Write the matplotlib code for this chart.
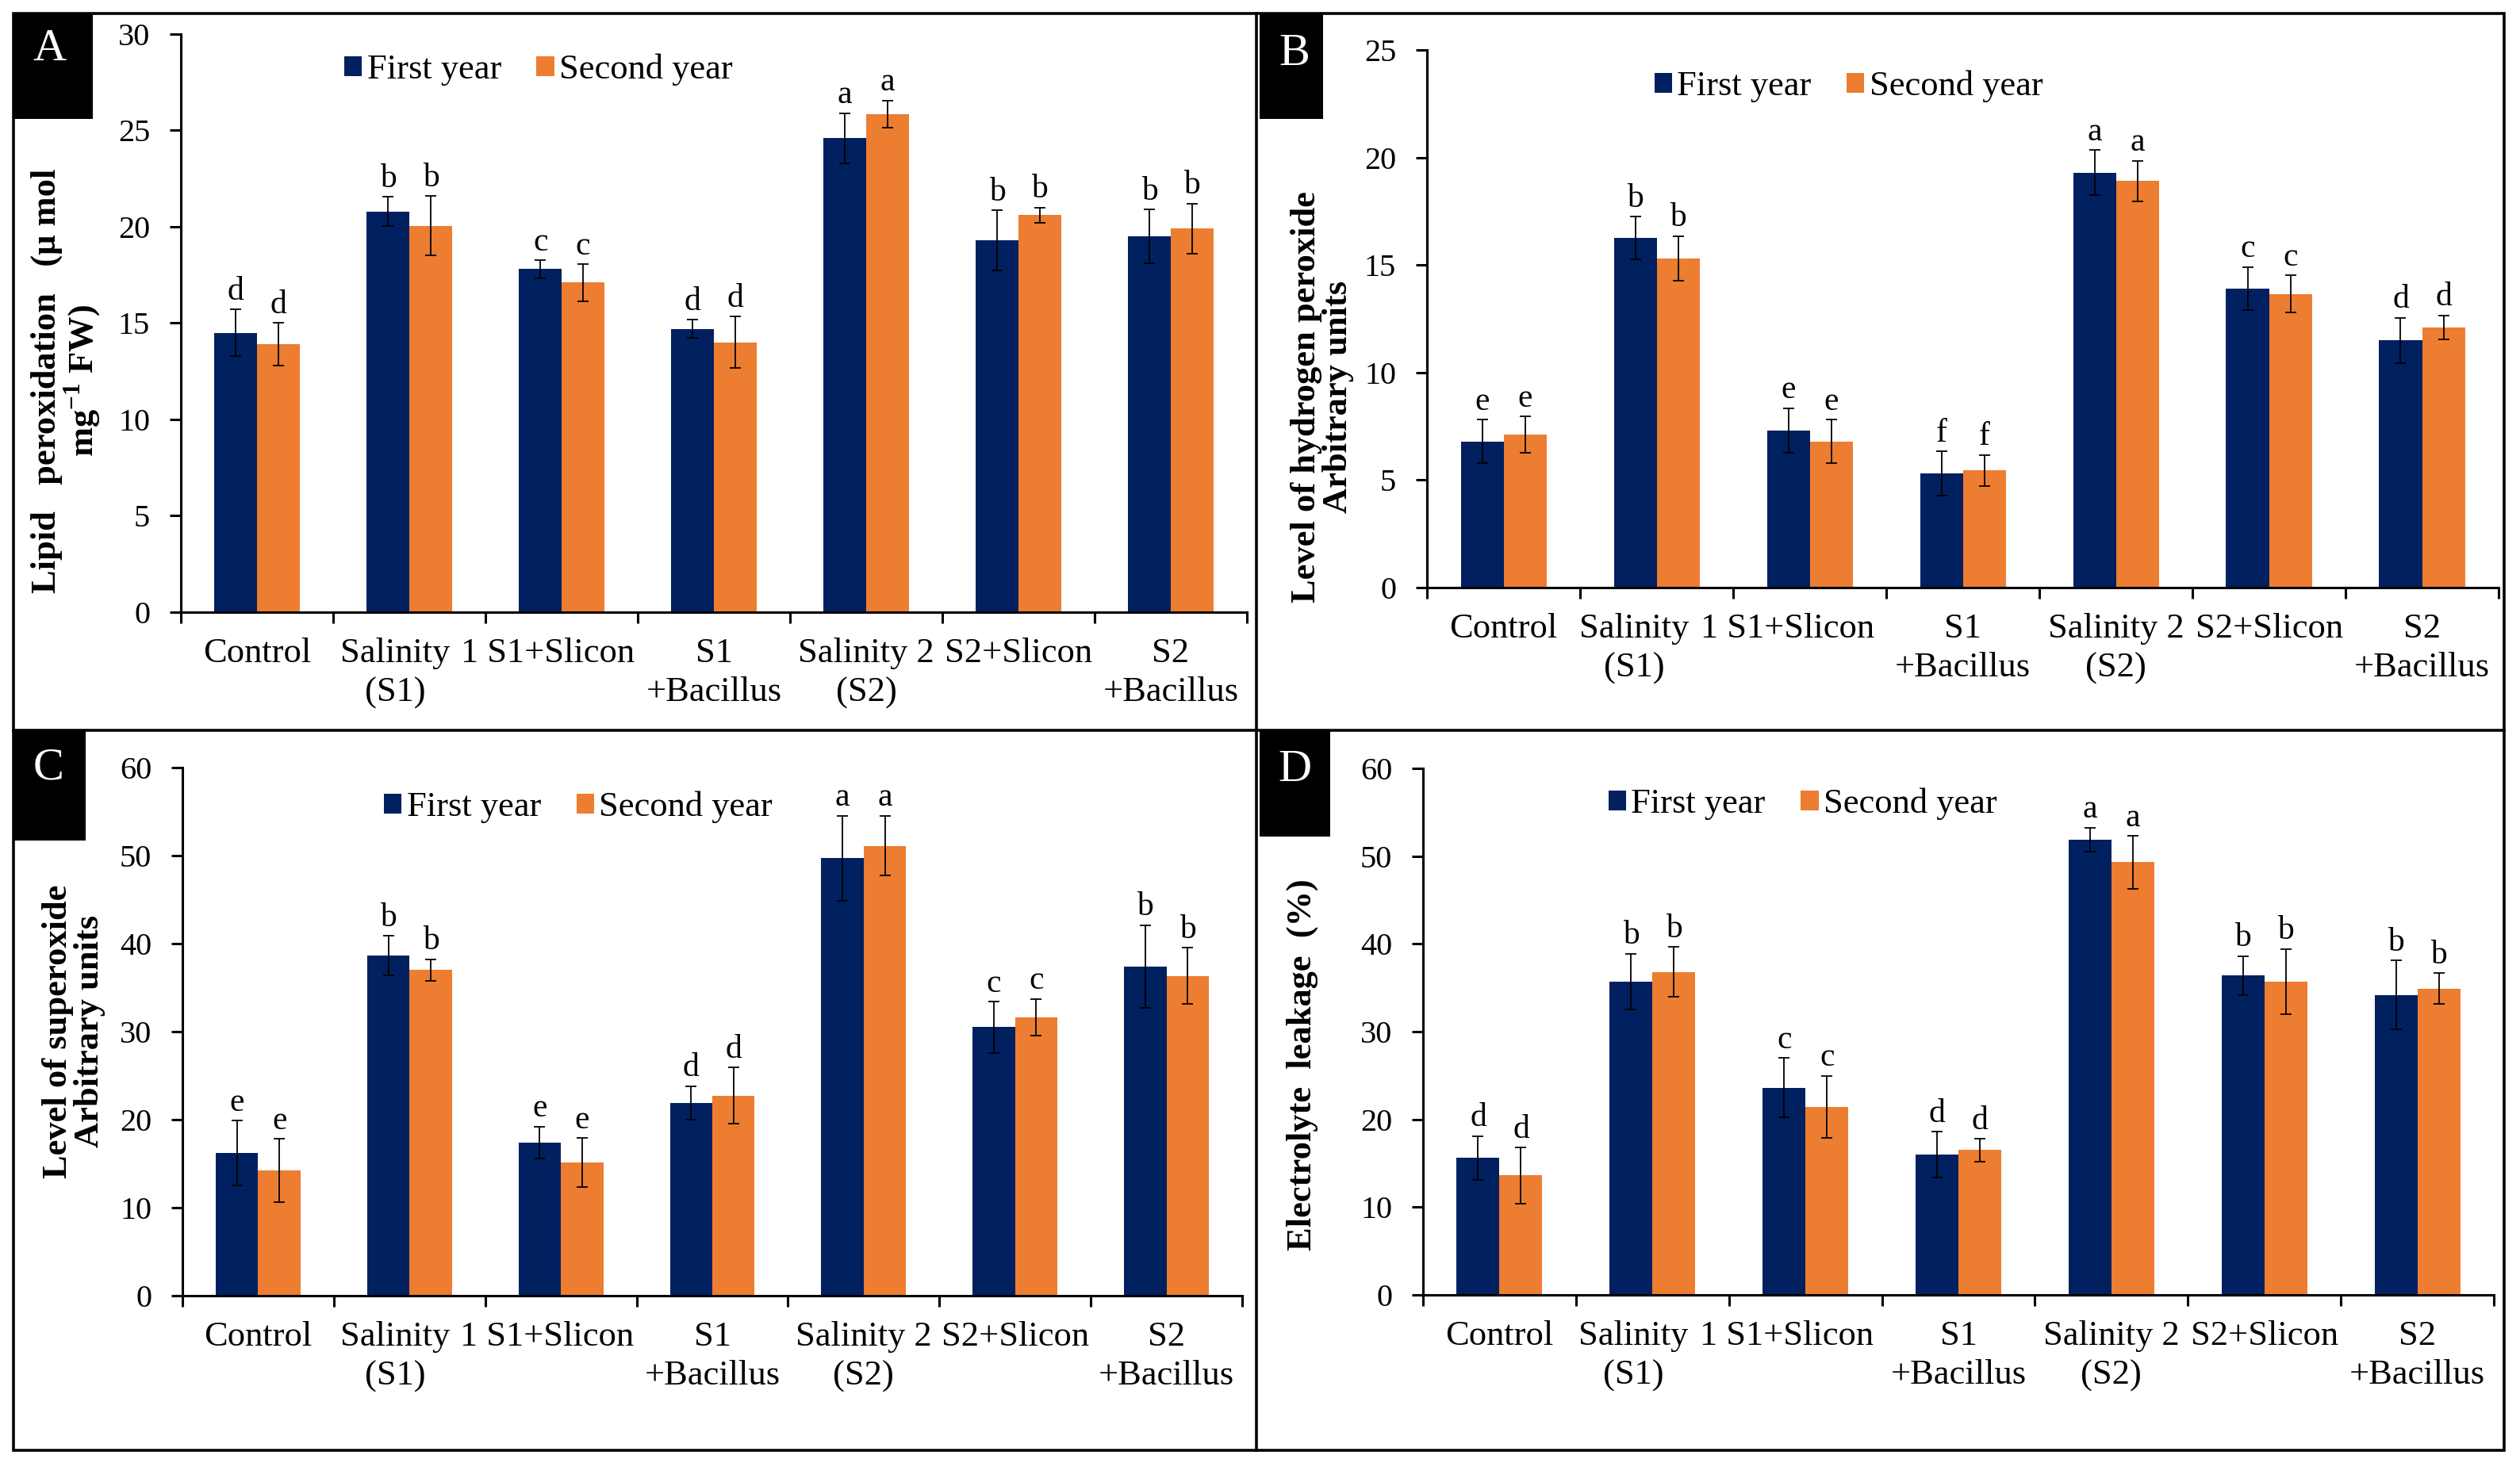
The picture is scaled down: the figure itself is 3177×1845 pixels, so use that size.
import matplotlib
matplotlib.use('Agg')
import matplotlib.pyplot as plt
import numpy as np
from matplotlib.patches import Rectangle
from matplotlib.lines import Line2D
from matplotlib.transforms import ScaledTranslation

plt.rcParams['font.family'] = ['Liberation Serif', 'DejaVu Serif']
plt.rcParams['mathtext.fontset'] = 'custom'
plt.rcParams['mathtext.rm'] = 'Liberation Serif:bold'

# ---- data ----
groups = ['Control', 'Salinity\n(S1)', '1 S1+Slicon', 'S1\n+Bacillus',
          'Salinity 2\n(S2)', 'S2+Slicon', 'S2\n+Bacillus']
series = ['First year', 'Second year']

lipid_y1 = [14.5, 20.8, 17.8, 14.7, 24.6, 19.3, 19.5]
lipid_y1_err = [1.2, 0.75, 0.47, 0.48, 1.3, 1.55, 1.4]
lipid_y2 = [13.9, 20.05, 17.1, 14.0, 25.85, 20.6, 19.9]
lipid_y2_err = [1.1, 1.55, 0.95, 1.33, 0.7, 0.4, 1.3]
lipid_letters = ['d', 'b', 'c', 'd', 'a', 'b', 'b']

h2o2_y1 = [6.8, 16.25, 7.3, 5.3, 19.3, 13.9, 11.5]
h2o2_y1_err = [1.0, 1.0, 1.04, 1.03, 1.04, 1.0, 1.05]
h2o2_y2 = [7.1, 15.3, 6.8, 5.45, 18.9, 13.65, 12.1]
h2o2_y2_err = [0.85, 1.04, 1.0, 0.72, 0.94, 0.86, 0.55]
h2o2_letters = ['e', 'b', 'e', 'f', 'a', 'c', 'd']

sup_y1 = [16.2, 38.6, 17.4, 21.9, 49.7, 30.5, 37.4]
sup_y1_err = [3.7, 2.25, 1.8, 1.9, 4.8, 2.9, 4.7]
sup_y2 = [14.2, 37.0, 15.1, 22.7, 51.1, 31.6, 36.3]
sup_y2_err = [3.6, 1.2, 2.8, 3.2, 3.4, 2.1, 3.2]
sup_letters = ['e', 'b', 'e', 'd', 'a', 'c', 'b']

el_y1 = [15.6, 35.7, 23.6, 16.0, 51.9, 36.4, 34.2]
el_y1_err = [2.5, 3.2, 3.4, 2.6, 1.35, 2.2, 3.9]
el_y2 = [13.6, 36.8, 21.4, 16.5, 49.3, 35.7, 34.9]
el_y2_err = [3.2, 2.85, 3.55, 1.3, 3.0, 3.7, 1.75]
el_letters = ['d', 'b', 'c', 'd', 'a', 'b', 'b']

NAVY = '#002060'
ORANGE = '#ED7D31'
BW = 0.28


def draw_panel(ax, y1, e1, y2, e2, letters, ymax, ystep, ylabel, lab_xy, leg_xy, shift):
    x = np.arange(len(groups))
    ax.bar(x - BW / 2, y1, BW, color=NAVY, label=series[0], zorder=2)
    ax.bar(x + BW / 2, y2, BW, color=ORANGE, label=series[1], zorder=2)
    for xs, ys, es in ((x - BW / 2, y1, e1), (x + BW / 2, y2, e2)):
        ax.errorbar(xs, ys, yerr=es, fmt='none', ecolor='black', elinewidth=1.3,
                    capsize=5, capthick=1.3, zorder=3)
        for xi, yi, ei, lt in zip(xs, ys, es, letters):
            ax.annotate(lt, (xi, yi + ei), xytext=(0, 9), textcoords='offset points',
                        ha='center', va='baseline', fontsize=30)

    ax.set_xlim(-0.5, len(groups) - 0.5)
    ax.set_ylim(0, ymax)
    ax.set_yticks(np.arange(0, ymax + ystep / 2, ystep))
    ax.set_xticks(x)
    ax.set_xticklabels(groups, fontsize=32, linespacing=1.3)
    ax.set_xticks(np.arange(-0.5, len(groups)), minor=True)
    ax.tick_params(axis='x', which='major', length=0, pad=23)
    ax.tick_params(axis='x', which='minor', length=10, width=2.2, direction='out')
    ax.tick_params(axis='y', which='major', length=10, width=2.2, direction='out',
                   labelsize=29, pad=18)
    # the 2nd and 3rd category labels sit a little left of their groups
    # (done after tick_params, which resets the label transforms)
    for lbl in ax.get_xticklabels()[1:3]:
        lbl.set_transform(lbl.get_transform() +
                          ScaledTranslation(-shift, 0, ax.figure.dpi_scale_trans))
    for s in ('top', 'right'):
        ax.spines[s].set_visible(False)
    for s in ('left', 'bottom'):
        ax.spines[s].set_linewidth(2.2)

    ax.set_ylabel(ylabel, fontsize=32, fontweight='bold', linespacing=1.0)
    ax.yaxis.set_label_coords(*lab_xy)

    ax.legend(loc='center left', bbox_to_anchor=leg_xy, ncol=2, frameon=False,
              fontsize=32, handlelength=0.5, handleheight=0.5, handletextpad=0.15,
              columnspacing=1.0, borderpad=0, borderaxespad=0)


fig = plt.figure(figsize=(31.77, 18.45), dpi=100)

axA = fig.add_axes([0.0718, 0.5816, 0.4230, 0.3951])
draw_panel(axA, lipid_y1, lipid_y1_err, lipid_y2, lipid_y2_err, lipid_letters, 30, 5,
           'Lipid   peroxidation   (μ mol\nmg$^{-1}$ FW)', (-0.073, 0.40), (0.153, 0.938), 0.18)

axB = fig.add_axes([0.5663, 0.5984, 0.4252, 0.3675])
draw_panel(axB, h2o2_y1, h2o2_y1_err, h2o2_y2, h2o2_y2_err, h2o2_letters, 25, 5,
           'Level of hydrogen peroxide\nArbitrary units', (-0.068, 0.355), (0.212, 0.932), 0.28)

axC = fig.add_axes([0.0724, 0.1144, 0.4205, 0.3610])
draw_panel(axC, sup_y1, sup_y1_err, sup_y2, sup_y2_err, sup_letters, 60, 10,
           'Level of superoxide\nArbitrary units', (-0.0726, 0.5), (0.19, 0.925), 0.18)

axD = fig.add_axes([0.5647, 0.1149, 0.4249, 0.3599])
draw_panel(axD, el_y1, el_y1_err, el_y2, el_y2_err, el_letters, 60, 10,
           'Electrolyte  leakage  (%)', (-0.098, 0.438), (0.173, 0.932), 0.24)

# ---- panel frames ----
L, R, T, B = 0.0054, 0.9936, 0.9908, 0.0087
MX, MY = 0.4986, 0.5008
frame_kw = dict(color='black', linewidth=2.6, transform=fig.transFigure)
fig.add_artist(Rectangle((L, B), R - L, T - B, fill=False, edgecolor='black',
                         linewidth=2.6, transform=fig.transFigure))
fig.add_artist(Line2D([MX, MX], [B, T], **frame_kw))
fig.add_artist(Line2D([L, R], [MY, MY], **frame_kw))

# ---- panel letters in black boxes ----
boxes = [('A', 0.0054, 0.9187, 0.0314, 0.0721, 0.0195, 0.9664),
         ('B', 0.4998, 0.9187, 0.0252, 0.0721, 0.5137, 0.9631),
         ('C', 0.0054, 0.4255, 0.0286, 0.0748, 0.0192, 0.4748),
         ('D', 0.4998, 0.4282, 0.0281, 0.0726, 0.5137, 0.4737)]
for letter, bx, by, bw, bh, tx, ty in boxes:
    fig.add_artist(Rectangle((bx, by), bw, bh, facecolor='black', edgecolor='none',
                             transform=fig.transFigure))
    fig.text(tx, ty, letter, color='white', fontsize=42, ha='center', va='center')

fig.savefig('out.png', dpi=100)
